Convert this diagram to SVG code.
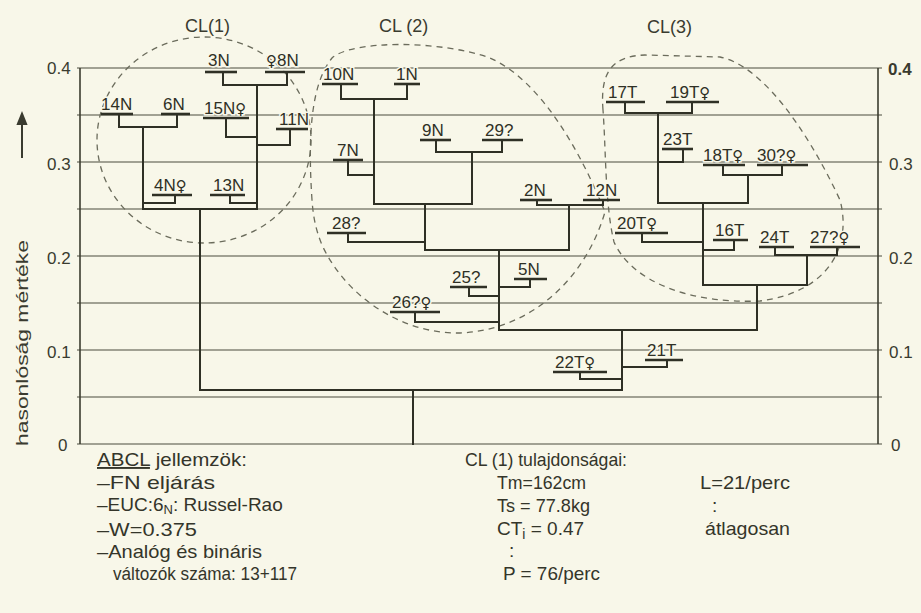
<svg xmlns="http://www.w3.org/2000/svg" width="921" height="613" viewBox="0 0 921 613">
<defs>
<style>
.bg{fill:#f8f7e9}
.grid{stroke:#4b4c3e;stroke-width:1.2;fill:none}
.axis{stroke:#3c3d30;stroke-width:1.6;fill:none}
.link{stroke:#2f3025;stroke-width:2;fill:none;stroke-linejoin:miter;stroke-linecap:square}
.ul{stroke:#2f3025;stroke-width:2.6;fill:none}
.clu{stroke:#6b6c5c;stroke-width:1.3;fill:none;stroke-dasharray:6 5}
.lbl{font-family:"Liberation Sans","DejaVu Sans",sans-serif;font-size:17px;fill:#2f3025;stroke:#f8f7e9;stroke-width:3;paint-order:stroke fill}
.fem{font-family:"DejaVu Sans",sans-serif;font-size:15px;font-weight:bold}
.tick{font-family:"Liberation Sans","DejaVu Sans",sans-serif;font-size:17px;fill:#3a3b2f}
.title{font-family:"Liberation Sans","DejaVu Sans",sans-serif;font-size:18px;fill:#3a3b2f}
.note{font-family:"Liberation Sans","DejaVu Sans",sans-serif;font-size:19px;fill:#34352a}
.note2{font-family:"Liberation Sans","DejaVu Sans",sans-serif;font-size:18px;fill:#34352a}
</style>
<marker id="ah" viewBox="0 0 10 10" refX="5" refY="5" markerWidth="7" markerHeight="9" orient="auto">
<path d="M0,1 L10,5 L0,9 Z" fill="#3a3b2f"/>
</marker>
</defs>
<rect class="bg" x="0" y="0" width="921" height="613"/>

<g id="grid">
<path class="grid" d="M77,68H882M77,115H882M77,162H882M77,209H882M77,256H882M77,303H882M77,350H882M77,397H882M77,444H882"/>
<path class="axis" d="M80,68V444M878,68V444"/>
</g>

<g id="axis-labels">
<text class="tick" x="47" y="74">0.4</text>
<text class="tick" x="47" y="170">0.3</text>
<text class="tick" x="47" y="264">0.2</text>
<text class="tick" x="47" y="358">0.1</text>
<text class="tick" x="58" y="451">0</text>
<text class="tick" x="888" y="75" font-weight="bold">0.4</text>
<text class="tick" x="889" y="170">0.3</text>
<text class="tick" x="889" y="264">0.2</text>
<text class="tick" x="889" y="358">0.1</text>
<text class="tick" x="891" y="451">0</text>
<text class="tick" transform="translate(28,343) rotate(-90)" text-anchor="middle" textLength="206" lengthAdjust="spacingAndGlyphs">hasonlóság mértéke</text>
<line x1="22" y1="158" x2="22" y2="118" stroke="#3a3b2f" stroke-width="2" marker-end="url(#ah)"/>
</g>

<g id="clusters">
<ellipse class="clu" cx="204" cy="140" rx="107" ry="103"/>
<path class="clu" d="M312,200 C308,140 310,85 332,58 C352,40 440,40 490,58 C540,80 580,150 605,212 C585,280 530,330 460,333 C400,334 345,295 322,245 C315,228 313,214 312,200 Z"/>
<path class="clu" d="M603,110 C600,72 612,56 645,55 L720,57 C760,65 805,125 840,200 C852,245 830,292 760,301 C690,304 632,282 614,242 C605,205 606,150 603,110 Z"/>
<text class="title" x="185" y="32">CL(1)</text>
<text class="title" x="379" y="32">CL (2)</text>
<text class="title" x="647" y="33">CL(3)</text>
</g>

<g id="connectors">
<path class="link" d="M119,114V127H177V114M143,127V209M223,72V85H287V72M257,85V209M226,118V137H257M290,129V145H257M175,195V203H143M230,195V203H257M143,209H257M200,209V390"/>
<path class="link" d="M341,84V99H407V84M374,99V204M348,160V175H374M436,140V152H502V140M472,152V204M374,204H472M425,204V250M537,200V205H603V200M569,205V250M348,233V242H425M425,250H569M499,250V330M469,287V296H499M530,279V287H499M415,312V322H499M499,330H757"/>
<path class="link" d="M625,102V113H692V102M658,113V203M683,149V162H658M723,165V175H782V165M748,175V203M658,203H748M703,203V285M642,233V242H703M734,240V250H703M775,247V255H837V247M807,255V285M703,285H807M757,285V330"/>
<path class="link" d="M580,372V379H622M667,360V367H622M622,330V390M200,390H622M413,390V444"/>
</g>

<g id="n14N"><text class="lbl" x="101" y="110">14N</text><path class="ul" d="M101,114H133"/></g>
<g id="n6N"><text class="lbl" x="163" y="110">6N</text><path class="ul" d="M161,114H190"/></g>
<g id="n3N"><text class="lbl" x="208" y="66">3N</text><path class="ul" d="M205,72H237"/></g>
<g id="n8N"><text class="lbl" x="266" y="66"><tspan class="fem">♀</tspan>8N</text><path class="ul" d="M265,72H305"/></g>
<g id="n15N"><text class="lbl" x="204" y="114">15N<tspan class="fem">♀</tspan></text><path class="ul" d="M203,118H249"/></g>
<g id="n11N"><text class="lbl" x="279" y="125">11N</text><path class="ul" d="M276,129H308"/></g>
<g id="n4N"><text class="lbl" x="154" y="191">4N<tspan class="fem">♀</tspan></text><path class="ul" d="M152,195H192"/></g>
<g id="n13N"><text class="lbl" x="213" y="191">13N</text><path class="ul" d="M210,195H245"/></g>

<g id="n10N"><text class="lbl" x="323" y="80">10N</text><path class="ul" d="M322,84H358"/></g>
<g id="n1N"><text class="lbl" x="396" y="80">1N</text><path class="ul" d="M394,84H420"/></g>
<g id="n7N"><text class="lbl" x="337" y="156">7N</text><path class="ul" d="M333,160H363"/></g>
<g id="n9N"><text class="lbl" x="422" y="136">9N</text><path class="ul" d="M420,140H451"/></g>
<g id="n29"><text class="lbl" x="485" y="136">29?</text><path class="ul" d="M482,140H523"/></g>
<g id="n2N"><text class="lbl" x="524" y="196">2N</text><path class="ul" d="M520,200H552"/></g>
<g id="n12N"><text class="lbl" x="586" y="196">12N</text><path class="ul" d="M583,200H620"/></g>
<g id="n28"><text class="lbl" x="332" y="229">28?</text><path class="ul" d="M327,233H366"/></g>
<g id="n25"><text class="lbl" x="452" y="283">25?</text><path class="ul" d="M450,287H487"/></g>
<g id="n5N"><text class="lbl" x="518" y="275">5N</text><path class="ul" d="M514,279H547"/></g>
<g id="n26"><text class="lbl" x="392" y="308">26?<tspan class="fem">♀</tspan></text><path class="ul" d="M390,312H440"/></g>

<g id="n17T"><text class="lbl" x="608" y="98">17T</text><path class="ul" d="M606,102H645"/></g>
<g id="n19T"><text class="lbl" x="670" y="98">19T<tspan class="fem">♀</tspan></text><path class="ul" d="M666,102H719"/></g>
<g id="n23T"><text class="lbl" x="663" y="145">23T</text><path class="ul" d="M662,149H693"/></g>
<g id="n18T"><text class="lbl" x="703" y="161">18T<tspan class="fem">♀</tspan></text><path class="ul" d="M703,165H745"/></g>
<g id="n30"><text class="lbl" x="757" y="161">30?<tspan class="fem">♀</tspan></text><path class="ul" d="M757,165H808"/></g>
<g id="n20T"><text class="lbl" x="617" y="229">20T<tspan class="fem">♀</tspan></text><path class="ul" d="M615,233H668"/></g>
<g id="n16T"><text class="lbl" x="715" y="236">16T</text><path class="ul" d="M713,240H748"/></g>
<g id="n24T"><text class="lbl" x="760" y="243">24T</text><path class="ul" d="M759,247H794"/></g>
<g id="n27"><text class="lbl" x="810" y="243">27?<tspan class="fem">♀</tspan></text><path class="ul" d="M810,247H860"/></g>
<g id="n22T"><text class="lbl" x="555" y="368">22T<tspan class="fem">♀</tspan></text><path class="ul" d="M553,372H607"/></g>
<g id="n21T"><text class="lbl" x="647" y="356">21T</text><path class="ul" d="M645,360H683"/></g>

<g id="notes-left">
<text class="note" x="97" y="466" textLength="150" lengthAdjust="spacingAndGlyphs"><tspan text-decoration="underline">ABCL</tspan> jellemzök:</text>
<text class="note" x="97" y="489" textLength="118" lengthAdjust="spacingAndGlyphs">–FN eljárás</text>
<text class="note" x="97" y="511">–EUC:6<tspan dy="3" font-size="13">N</tspan><tspan dy="-3">: Russel-Rao</tspan></text>
<text class="note" x="97" y="536" textLength="100" lengthAdjust="spacingAndGlyphs">–W=0.375</text>
<text class="note" x="97" y="558" textLength="165" lengthAdjust="spacingAndGlyphs">–Analóg és bináris</text>
<text class="note2" x="113" y="580" textLength="184" lengthAdjust="spacingAndGlyphs">változók száma: 13+117</text>
</g>
<g id="notes-right">
<text class="note" x="465" y="466" textLength="162" lengthAdjust="spacingAndGlyphs">CL (1) tulajdonságai:</text>
<text class="note" x="497" y="489" textLength="89" lengthAdjust="spacingAndGlyphs">Tm=162cm</text>
<text class="note" x="497" y="512" textLength="93" lengthAdjust="spacingAndGlyphs">Ts = 77.8kg</text>
<text class="note" x="497" y="535">CT<tspan dy="4" font-size="14">i</tspan><tspan dy="-4"> = 0.47</tspan></text>
<text class="note" x="509" y="557">:</text>
<text class="note" x="503" y="580" textLength="97" lengthAdjust="spacingAndGlyphs">P = 76/perc</text>
<text class="note" x="700" y="489" textLength="90" lengthAdjust="spacingAndGlyphs">L=21/perc</text>
<text class="note" x="712" y="512">:</text>
<text class="note" x="705" y="535" textLength="85" lengthAdjust="spacingAndGlyphs">átlagosan</text>
</g>
</svg>
